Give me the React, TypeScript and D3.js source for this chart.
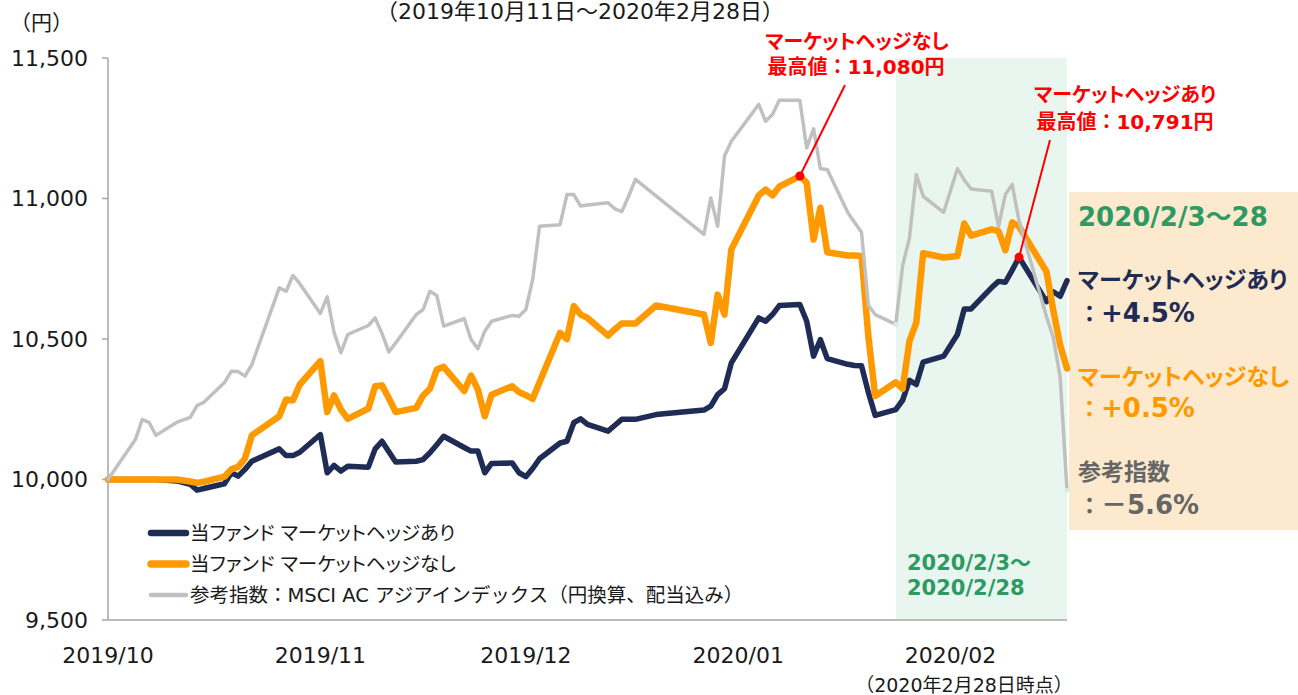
import * as d3 from 'd3';

// trading days (JST) 2019/10/11 - 2020/02/28
const dates = [
  '2019-10-11', '2019-10-15', '2019-10-16', '2019-10-17', '2019-10-18', '2019-10-21', '2019-10-23',
  '2019-10-24', '2019-10-25', '2019-10-28', '2019-10-29', '2019-10-30', '2019-10-31',
  '2019-11-01', '2019-11-05', '2019-11-06', '2019-11-07', '2019-11-08', '2019-11-11', '2019-11-12',
  '2019-11-13', '2019-11-14', '2019-11-15', '2019-11-18', '2019-11-19', '2019-11-20', '2019-11-21',
  '2019-11-22', '2019-11-25', '2019-11-26', '2019-11-27', '2019-11-28', '2019-11-29',
  '2019-12-02', '2019-12-03', '2019-12-04', '2019-12-05', '2019-12-06', '2019-12-09', '2019-12-10',
  '2019-12-11', '2019-12-12', '2019-12-13', '2019-12-16', '2019-12-17', '2019-12-18', '2019-12-19',
  '2019-12-20', '2019-12-23', '2019-12-24', '2019-12-25', '2019-12-26', '2019-12-27', '2019-12-30',
  '2020-01-06', '2020-01-07', '2020-01-08', '2020-01-09', '2020-01-10', '2020-01-14', '2020-01-15',
  '2020-01-16', '2020-01-17', '2020-01-20', '2020-01-21', '2020-01-22', '2020-01-23', '2020-01-24',
  '2020-01-27', '2020-01-28', '2020-01-29', '2020-01-30', '2020-01-31',
  '2020-02-03', '2020-02-04', '2020-02-05', '2020-02-06', '2020-02-07', '2020-02-10', '2020-02-12',
  '2020-02-13', '2020-02-14', '2020-02-17', '2020-02-18', '2020-02-19', '2020-02-20', '2020-02-21',
  '2020-02-25', '2020-02-26', '2020-02-27', '2020-02-28',
];

// 当ファンド マーケットヘッジあり
const hedged = [
  10000, 10000, 10000, 10000, 10000, 9995, 9983, 9962, 9968, 9985, 10024, 10012, 10036,
  10065, 10109, 10085, 10085, 10097, 10160, 10024, 10050, 10030, 10047, 10044, 10109, 10136, 10099,
  10062, 10065, 10071, 10095, 10124, 10154,
  10114, 10101, 10101, 10024, 10057, 10059, 10024, 10010, 10039, 10074, 10130, 10136, 10202, 10216,
  10196, 10172, 10193, 10214, 10214, 10214, 10231,
  10247, 10261, 10302, 10323, 10415, 10575, 10563, 10587, 10619, 10623, 10563, 10439, 10498, 10430,
  10410, 10406, 10405, 10310, 10228,
  10249, 10282, 10353, 10338, 10418, 10439, 10516, 10607, 10607, 10683, 10705, 10702, 10745, 10791,
  10633, 10668, 10652, 10708,
];

// 当ファンド マーケットヘッジなし
const unhedged = [
  10000, 10000, 10000, 10000, 10000, 10000, 9993, 9988, 9992, 10010, 10036, 10045, 10075,
  10157, 10225, 10285, 10282, 10338, 10421, 10240, 10299, 10249, 10216, 10252, 10332, 10335, 10289,
  10240, 10255, 10299, 10323, 10391, 10401,
  10315, 10370, 10320, 10225, 10302, 10332, 10311, 10300, 10287, 10346, 10522, 10500, 10617, 10587,
  10575, 10512, 10535, 10555, 10555, 10555, 10619,
  10587, 10486, 10658, 10587, 10819, 11011, 11032, 11011, 11042, 11080, 11056, 10854, 10967, 10809,
  10797, 10797, 10795, 10510, 10297,
  10346, 10323, 10492, 10558, 10805, 10790, 10795, 10911, 10868, 10890, 10884, 10816, 10915, 10900,
  10740, 10602, 10478, 10395,
];

// 参考指数：MSCI AC アジアインデックス（円換算、配当込み）
const benchmark = [
  10000, 10142, 10213, 10203, 10157, 10203, 10221, 10263, 10275, 10345, 10385, 10384, 10368,
  10409, 10682, 10670, 10726, 10697, 10591, 10650, 10523, 10451, 10516, 10548, 10575, 10520, 10454,
  10486, 10587, 10605, 10670, 10655, 10546,
  10572, 10498, 10465, 10528, 10563, 10584, 10581, 10605, 10712, 10901, 10907, 11014, 11014, 10973,
  10977, 10985, 10963, 10953, 11008, 11068, 11009,
  10872, 11002, 10901, 11151, 11204, 11335, 11275, 11299, 11350, 11350, 11180, 11248, 11106, 11103,
  10950, 10915, 10880, 10620, 10587,
  10552, 10760, 10860, 11085, 11008, 10951, 11106, 11066, 11034, 11026, 10900, 11014, 11050, 10920,
  10580, 10505, 10365, 9962,
];

const yTicks = [9500, 10000, 10500, 11000, 11500];
const xTickDates = ['2019-10-11', '2019-11-11', '2019-12-11', '2020-01-11', '2020-02-11'];
const periodStart = '2020-02-03';

const NAVY = '#1f2d56';
const ORANGE = '#ff9900';
const GRAY = '#c0c0c0';
const GREEN = '#2e9a63';
const RED = '#ff0000';

const MIX = "'DejaVu Sans', 'Noto Sans CJK JP', sans-serif";
const JP = "'Noto Sans CJK JP', sans-serif";

const series = [
  { key: 'hedged', values: hedged, color: NAVY, width: 5.5, legendWidth: 6.5, palt: true, label: '当ファンド マーケットヘッジあり' },
  { key: 'unhedged', values: unhedged, color: ORANGE, width: 6.5, legendWidth: 7.5, palt: true, label: '当ファンド マーケットヘッジなし' },
  { key: 'benchmark', values: benchmark, color: GRAY, width: 3.5, legendWidth: 4.5, palt: false, label: '参考指数：MSCI AC アジアインデックス（円換算、配当込み）' },
];

export default function App() {
  const parse = d3.timeParse('%Y-%m-%d');
  const days = dates.map(d => parse(d) as Date);

  const x = d3.scaleTime()
    .domain([days[0], days[days.length - 1]])
    .range([108, 1067]);
  const y = d3.scaleLinear().domain([9500, 11500]).range([620, 58]);

  const line = d3.line<number>()
    .x((_, i) => x(days[i]))
    .y(d => y(d));

  const fmtMonth = d3.timeFormat('%Y/%m');
  const fmtNum = d3.format(',');

  const startIdx = dates.indexOf(periodStart);
  const lastIdx = dates.length - 1;
  const change = (vals: number[]) => {
    const v = (vals[lastIdx] / vals[startIdx] - 1) * 100;
    return v >= 0 ? '+' + v.toFixed(1) + '%' : '－' + Math.abs(v).toFixed(1) + '%';
  };

  const peakU = d3.maxIndex(unhedged);
  const peakH = d3.maxIndex(hedged);

  const shadeX0 = x(parse(periodStart) as Date);
  const shadeX1 = x(days[lastIdx]);

  return (
    <svg width={1298} height={695} style={{ position: 'absolute', left: 0, top: 0, background: '#fff' }}>
      {/* period shading */}
      <rect x={shadeX0} y={y(11500)} width={shadeX1 - shadeX0} height={y(9500) - y(11500)} fill="#e9f6ef" />
      {/* result panel */}
      <rect x={1069} y={192} width={229} height={338} fill="#fde9cd" />

      {/* axes */}
      <line x1={108} x2={108} y1={y(11500)} y2={y(9500)} stroke="#a6a6a6" strokeWidth={1.5} />
      <line x1={108} x2={shadeX1} y1={y(9500)} y2={y(9500)} stroke="#a6a6a6" strokeWidth={1.5} />
      {yTicks.map(t => (
        <g key={t}>
          <line x1={102} x2={108} y1={y(t)} y2={y(t)} stroke="#a6a6a6" strokeWidth={1.5} />
          <text x={88} y={y(t)} dy="0.36em" textAnchor="end" fontFamily={MIX} fontSize={22} fill="#1a1a1a">
            {fmtNum(t)}
          </text>
        </g>
      ))}
      {xTickDates.map(t => {
        const dt = parse(t) as Date;
        return (
          <text key={t} x={x(dt)} y={663} textAnchor="middle" fontFamily={MIX} fontSize={22} fill="#1a1a1a">
            {fmtMonth(dt)}
          </text>
        );
      })}

      <text x={10} y={30} fontFamily={JP} fontSize={21} fill="#1a1a1a">（円）</text>
      <text x={580} y={19} textAnchor="middle" fontFamily={MIX} fontSize={22} fill="#1a1a1a">
        （2019年10月11日～2020年2月28日）
      </text>
      <text x={964} y={692} textAnchor="middle" fontFamily={MIX} fontSize={19} fill="#1a1a1a">
        （2020年2月28日時点）
      </text>

      {/* series */}
      {series.map(s => (
        <path key={s.key} d={line(s.values) || ''} fill="none" stroke={s.color} strokeWidth={s.width}
          strokeLinejoin="round" strokeLinecap="round" />
      ))}
      <circle cx={x(days[startIdx])} cy={y(benchmark[startIdx])} r={2.5} fill="#d4efe0" />
      <circle cx={x(days[lastIdx])} cy={y(benchmark[lastIdx])} r={2.5} fill="#d4efe0" />

      {/* legend */}
      {series.map((s, i) => (
        <g key={s.key} transform={`translate(0, ${533 + i * 31})`}>
          <line x1={151} x2={186} y1={0} y2={0} stroke={s.color} strokeWidth={s.legendWidth} strokeLinecap="round" />
          <text x={190} y={0} dy="0.36em" fontFamily={MIX} fontSize={19.5} fill="#1a1a1a"
            style={s.palt ? { fontFeatureSettings: '"palt"' } : undefined}>
            {s.label}
          </text>
        </g>
      ))}

      {/* period label */}
      <text x={907} y={562} dy="0.36em" fontFamily={MIX} fontSize={21} fontWeight="bold" fill={GREEN}>2020/2/3～</text>
      <text x={907} y={587} dy="0.36em" fontFamily={MIX} fontSize={21} fontWeight="bold" fill={GREEN}>2020/2/28</text>

      {/* peak annotations */}
      <line x1={845} y1={85} x2={x(days[peakU])} y2={y(unhedged[peakU])} stroke={RED} strokeWidth={2} />
      <circle cx={x(days[peakU])} cy={y(unhedged[peakU])} r={4.5} fill={RED} />
      <text x={857} y={42} dy="0.36em" textAnchor="middle" fontFamily={JP} fontSize={20} fontWeight="bold" fill={RED}
        style={{ fontFeatureSettings: '"palt"' }}>マーケットヘッジなし</text>
      <text x={856} y={67} dy="0.36em" textAnchor="middle" fontFamily={MIX} fontSize={20} fontWeight="bold" fill={RED}>
        最高値：{fmtNum(unhedged[peakU])}円
      </text>

      <line x1={1050} y1={140} x2={x(days[peakH])} y2={y(hedged[peakH])} stroke={RED} strokeWidth={2} />
      <circle cx={x(days[peakH])} cy={y(hedged[peakH])} r={4.5} fill={RED} />
      <text x={1125} y={95} dy="0.36em" textAnchor="middle" fontFamily={JP} fontSize={20} fontWeight="bold" fill={RED}
        style={{ fontFeatureSettings: '"palt"' }}>マーケットヘッジあり</text>
      <text x={1125} y={122} dy="0.36em" textAnchor="middle" fontFamily={MIX} fontSize={20} fontWeight="bold" fill={RED}>
        最高値：{fmtNum(hedged[peakH])}円
      </text>

      {/* result panel text */}
      <text x={1078} y={217} dy="0.36em" fontFamily={MIX} fontSize={26} fontWeight="bold" fill={GREEN}>2020/2/3～28</text>
      <text x={1078} y={280} dy="0.36em" fontFamily={JP} fontSize={23} fontWeight="bold" fill={NAVY}
        style={{ fontFeatureSettings: '"palt"' }}>マーケットヘッジあり</text>
      <text x={1078} y={313} dy="0.36em" fontFamily={MIX} fontSize={26} fontWeight="bold" fill={NAVY}>
        <tspan fontSize={23}>：</tspan>{change(hedged)}
      </text>
      <text x={1078} y={377} dy="0.36em" fontFamily={JP} fontSize={23} fontWeight="bold" fill={ORANGE}
        style={{ fontFeatureSettings: '"palt"' }}>マーケットヘッジなし</text>
      <text x={1078} y={408} dy="0.36em" fontFamily={MIX} fontSize={26} fontWeight="bold" fill={ORANGE}>
        <tspan fontSize={23}>：</tspan>{change(unhedged)}
      </text>
      <text x={1078} y={472} dy="0.36em" fontFamily={JP} fontSize={23} fontWeight="bold" fill="#666666">参考指数</text>
      <text x={1078} y={505} dy="0.36em" fontFamily={MIX} fontSize={26} fontWeight="bold" fill="#666666">
        <tspan fontSize={23}>：</tspan>{change(benchmark)}
      </text>
    </svg>
  );
}
